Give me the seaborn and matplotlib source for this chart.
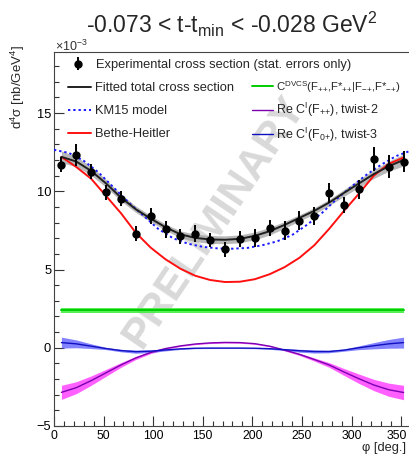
import numpy as np
import pandas as pd
import matplotlib
matplotlib.use("Agg")
import matplotlib.pyplot as plt
import matplotlib.transforms as mtransforms
import seaborn as sns
from matplotlib.ticker import MultipleLocator

# ---------------- data (units of 1e-3 nb/GeV^4) ----------------
phi_bins = [7.5, 22.5, 37.5, 52.5, 67.5, 82.5, 97.5, 112.5, 127.5, 142.5, 157.5, 172.5,
            187.5, 202.5, 217.5, 232.5, 247.5, 262.5, 277.5, 292.5, 307.5, 322.5, 337.5, 352.5]
xsec = [11.7, 12.3, 11.26, 9.95, 9.53, 7.3, 8.42, 7.56, 7.14, 7.29, 6.86, 6.28,
        6.94, 7.0, 7.64, 7.49, 8.13, 8.43, 9.92, 9.13, 10.13, 12.05, 11.58, 11.9]
xsec_err = [0.5, 0.7, 0.48, 0.48, 0.48, 0.5, 0.53, 0.53, 0.48, 0.56, 0.45, 0.48,
            0.53, 0.59, 0.53, 0.59, 0.59, 0.59, 0.64, 0.53, 0.62, 0.75, 0.75, 0.7]

fit_total = [12.2, 11.9, 11.3, 10.5, 9.6, 8.85, 8.25, 7.7, 7.25, 7.02, 6.92, 6.9,
             6.96, 7.15, 7.45, 7.85, 8.3, 8.75, 9.28, 9.9, 10.5, 11.1, 11.6, 12.0]
fit_total_err = [0.38, 0.32, 0.28, 0.25, 0.22, 0.2, 0.2, 0.2, 0.22, 0.24, 0.25, 0.25,
                 0.25, 0.25, 0.24, 0.22, 0.2, 0.2, 0.2, 0.22, 0.25, 0.28, 0.32, 0.38]
bethe_heitler = [12.2, 11.55, 10.8, 9.7, 8.6, 7.35, 6.4, 5.65, 5.05, 4.6, 4.33, 4.2,
                 4.22, 4.38, 4.7, 5.15, 5.75, 6.55, 7.6, 8.75, 9.85, 11.0, 11.75, 12.15]

phi_km15 = [0, 15, 30, 45, 60, 75, 90, 105, 120, 135, 150, 165, 180,
            195, 210, 225, 240, 255, 270, 285, 300, 315, 330, 345, 360]
km15 = [12.65, 12.45, 11.95, 11.2, 10.25, 9.3, 8.45, 7.6, 7.0, 6.65, 6.45, 6.35, 6.33,
        6.38, 6.55, 6.8, 7.2, 7.85, 8.6, 9.5, 10.3, 11.05, 11.7, 12.25, 12.6]

phi_ends = [7.5, 352.5]
c_dvcs = [2.4, 2.4]
c_dvcs_err = [0.15, 0.15]

re_ci_twist2 = [-2.85, -2.55, -2.1, -1.6, -1.1, -0.65, -0.3, -0.05, 0.12, 0.24, 0.31, 0.34,
                0.33, 0.26, 0.1, -0.15, -0.42, -0.75, -1.1, -1.55, -1.98, -2.38, -2.68, -2.86]
re_ci_twist2_err = [0.45, 0.38, 0.3, 0.22, 0.15, 0.1, 0.07, 0.05, 0.04, 0.04, 0.04, 0.04,
                    0.04, 0.04, 0.04, 0.05, 0.07, 0.1, 0.15, 0.22, 0.3, 0.36, 0.42, 0.46]
re_ci_twist3 = [0.33, 0.25, 0.1, -0.05, -0.18, -0.25, -0.22, -0.14, -0.07, -0.03, -0.02, -0.02,
                -0.02, -0.03, -0.06, -0.12, -0.19, -0.24, -0.24, -0.15, 0.0, 0.13, 0.25, 0.33]
re_ci_twist3_err = [0.35, 0.25, 0.15, 0.07, 0.08, 0.1, 0.09, 0.06, 0.04, 0.03, 0.03, 0.03,
                    0.03, 0.03, 0.04, 0.06, 0.09, 0.1, 0.08, 0.07, 0.12, 0.2, 0.28, 0.35]

labels = {
    "exp": "Experimental cross section (stat. errors only)",
    "fit": "Fitted total cross section",
    "km15": "KM15 model",
    "bh": "Bethe-Heitler",
    "dvcs": r"C$^{\mathrm{DVCS}}$(F$_{{+}{+}}$,F*$_{{+}{+}}$|F$_{{-}{+}}$,F*$_{{-}{+}}$)",
    "tw2": r"Re C$^{\mathrm{I}}$(F$_{{+}{+}}$), twist-2",
    "tw3": r"Re C$^{\mathrm{I}}$(F$_{0{+}}$), twist-3",
}
title = r"-0.073 < t-t$_{\mathrm{min}}$ < -0.028 GeV$^{2}$"

# ---------------- style ----------------
sns.set_theme(style="ticks")
plt.rcParams["font.family"] = ["Liberation Sans", "DejaVu Sans"]
plt.rcParams["mathtext.fontset"] = "custom"
plt.rcParams["mathtext.rm"] = "Liberation Sans"
plt.rcParams["mathtext.it"] = "Liberation Sans:italic"
plt.rcParams["mathtext.bf"] = "Liberation Sans:bold"

W, H = 409, 458
fig = plt.figure(figsize=(W / 100, H / 100), dpi=100)
ax = fig.add_axes([54 / W, 32 / H, 357 / W, 374 / H])

df_data = pd.DataFrame({"phi": phi_bins, "xsec": xsec, "err": xsec_err})
df_curves = pd.DataFrame({"phi": phi_bins, "fit": fit_total, "fit_err": fit_total_err,
                          "bh": bethe_heitler, "tw2": re_ci_twist2, "tw2_err": re_ci_twist2_err,
                          "tw3": re_ci_twist3, "tw3_err": re_ci_twist3_err})
df_km = pd.DataFrame({"phi": phi_km15, "km15": km15})
df_dvcs = pd.DataFrame({"phi": phi_ends, "c": c_dvcs, "err": c_dvcs_err})

# watermark (behind the curves)
ax.text(214 / W, 1 - 222 / H, "PRELIMINARY", transform=fig.transFigure, rotation=56,
        fontsize=31, fontweight="bold", color="#d9d9d9", ha="center", va="center", zorder=1)

# bands
p = df_curves["phi"]
ax.fill_between(p, df_curves["fit"] - df_curves["fit_err"], df_curves["fit"] + df_curves["fit_err"],
                color="#a0a0a0", alpha=0.75, lw=0, zorder=2)
ax.fill_between(df_dvcs["phi"], df_dvcs["c"] - df_dvcs["err"], df_dvcs["c"] + df_dvcs["err"],
                color="#44ee44", alpha=0.9, lw=0, zorder=2)
ax.fill_between(p, df_curves["tw2"] - df_curves["tw2_err"], df_curves["tw2"] + df_curves["tw2_err"],
                color="#ff44ff", alpha=0.85, lw=0, zorder=2)
ax.fill_between(p, df_curves["tw3"] - df_curves["tw3_err"], df_curves["tw3"] + df_curves["tw3_err"],
                color="#5a5aff", alpha=0.75, lw=0, zorder=2)

# lines
sns.lineplot(data=df_curves, x="phi", y="bh", ax=ax, color="#ff1010", lw=1.4, zorder=3, label=labels["bh"], legend=False)
sns.lineplot(data=df_km, x="phi", y="km15", ax=ax, color="#1a1aff", lw=1.4, ls=(0, (1.2, 1.5)), zorder=4, label=labels["km15"], legend=False)
sns.lineplot(data=df_curves, x="phi", y="fit", ax=ax, color="#202020", lw=1.4, zorder=4, label=labels["fit"], legend=False)
sns.lineplot(data=df_dvcs, x="phi", y="c", ax=ax, color="#00cc00", lw=1.4, zorder=3, label=labels["dvcs"], legend=False)
sns.lineplot(data=df_curves, x="phi", y="tw2", ax=ax, color="#7a00b0", lw=1.0, zorder=3, label=labels["tw2"], legend=False)
sns.lineplot(data=df_curves, x="phi", y="tw3", ax=ax, color="#1010c0", lw=1.0, zorder=3, label=labels["tw3"], legend=False)

eb = ax.errorbar(df_data["phi"], df_data["xsec"], yerr=df_data["err"], fmt="o", color="black",
                 ms=5, elinewidth=1.4, capsize=0, zorder=5, label=labels["exp"])

ax.set_xlim(0, 360)
ax.set_ylim(-5, 18.9)
ax.xaxis.set_major_locator(MultipleLocator(50))
ax.xaxis.set_minor_locator(MultipleLocator(10))
ax.yaxis.set_major_locator(MultipleLocator(5))
ax.yaxis.set_minor_locator(MultipleLocator(1))
ax.tick_params(axis="both", which="both", direction="in", top=False, right=False,
               labelsize=9.3, colors="#333333", labelcolor="black")
ax.tick_params(axis="x", labelsize=8.8)
ax.tick_params(axis="both", which="major", length=7, width=0.8)
ax.tick_params(axis="both", which="minor", length=3.5, width=0.8)
ax.tick_params(axis="y", pad=2)
ax.tick_params(axis="x", pad=3)
for s in ax.spines.values():
    s.set_color("#444444")
    s.set_linewidth(0.8)
ax.set_xlabel("")
ax.set_ylabel("")
ax.grid(False)

# nudge the right-most x tick label ("350") slightly left so it stays inside the canvas
fig.canvas.draw()
shift = mtransforms.ScaledTranslation(-4 / 100, 0, fig.dpi_scale_trans)
for lab in ax.get_xticklabels():
    if lab.get_text() in ("350",):
        lab.set_transform(lab.get_transform() + shift)

# legends
h = {ln.get_label(): ln for ln in ax.get_lines()}
leg1 = ax.legend([eb], [labels["exp"]], loc="upper left", bbox_to_anchor=(68 / W, 1 - 59 / H),
                 bbox_transform=fig.transFigure, frameon=False, fontsize=9.3, borderpad=0,
                 borderaxespad=0, handlelength=1.6, handletextpad=0.6)
leg1.set_zorder(6)
ax.add_artist(leg1)
leg2 = ax.legend([h[labels["fit"]], h[labels["km15"]], h[labels["bh"]]],
                 [labels["fit"], labels["km15"], labels["bh"]],
                 loc="upper left", bbox_to_anchor=(68 / W, 1 - 82 / H), bbox_transform=fig.transFigure,
                 frameon=False, fontsize=9.3, borderpad=0, borderaxespad=0, handlelength=1.75,
                 handletextpad=0.35, labelspacing=0.85)
leg2.set_zorder(6)
ax.add_artist(leg2)
leg3 = ax.legend([h[labels["dvcs"]], h[labels["tw2"]], h[labels["tw3"]]],
                 [labels["dvcs"], labels["tw2"], labels["tw3"]],
                 loc="upper left", bbox_to_anchor=(252 / W, 1 - 79 / H), bbox_transform=fig.transFigure,
                 frameon=False, fontsize=9.0, borderpad=0, borderaxespad=0, handlelength=1.65,
                 handletextpad=0.3, labelspacing=0.5)
leg3.get_texts()[0].set_fontsize(8.2)
leg3.set_zorder(6)

# titles / labels
fig.text(232 / W, 1 - 24 / H, title, fontsize=16.5, ha="center", va="center")
fig.text(55 / W, 1 - 46 / H, r"$\times$10$^{-3}$", fontsize=9, ha="left", va="center", color="#333333")
fig.text(18 / W, 1 - 45 / H, r"d$^{4}$σ [nb/GeV$^{4}$]", fontsize=9.5, rotation=90, ha="center", va="top")
fig.text(406 / W, 1 - 448 / H, "φ [deg.]", fontsize=9.3, ha="right", va="center")

fig.savefig("out.png", dpi=100)
